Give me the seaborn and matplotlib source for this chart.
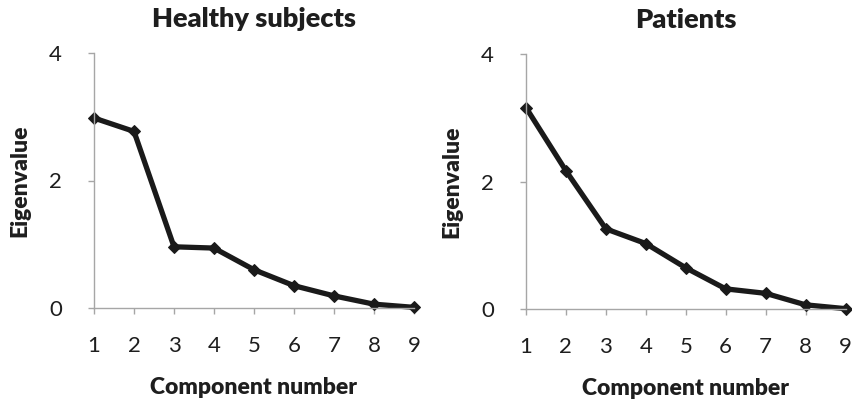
import numpy as np
import pandas as pd
import matplotlib
matplotlib.use("Agg")
import matplotlib.pyplot as plt
import seaborn as sns

# data
components = [1, 2, 3, 4, 5, 6, 7, 8, 9]
healthy_eigen = [2.98, 2.77, 0.96, 0.94, 0.60, 0.35, 0.19, 0.06, 0.01]
patient_eigen = [3.16, 2.17, 1.26, 1.03, 0.65, 0.32, 0.25, 0.07, 0.01]
panel_titles = ["Healthy subjects", "Patients"]
y_ticks = [0, 2, 4]

sns.set_style("white")
plt.rcParams["font.family"] = ["Lato", "DejaVu Sans"]

text_col = "#1e1e1e"
axis_col = "#a6a6a6"

fig, axes = plt.subplots(1, 2, figsize=(8.52, 4.05), dpi=100)
positions = [
    [94 / 852, 1 - 308 / 405, 320 / 852, 255 / 405],
    [526 / 852, 1 - 309.3 / 405, 319.5 / 852, 255.3 / 405],
]

for ax, title, vals, pos in zip(axes, panel_titles, [healthy_eigen, patient_eigen], positions):
    ax.set_position(pos)
    df = pd.DataFrame({"Component number": components, "Eigenvalue": vals})
    sns.lineplot(data=df, x="Component number", y="Eigenvalue", ax=ax,
                 color="#1a1a1a", linewidth=3.8, marker="D", markersize=6,
                 markeredgecolor="#1a1a1a", clip_on=False)
    ax.set_xlim(1, 9)
    ax.set_ylim(0, 4)
    ax.set_xticks(components)
    ax.set_yticks(y_ticks)
    sns.despine(ax=ax)
    for s in ["left", "bottom"]:
        ax.spines[s].set_color(axis_col)
        ax.spines[s].set_linewidth(1.0)
    ax.tick_params(axis="both", direction="out", length=4, width=1,
                   color=axis_col, labelcolor=text_col, labelsize=16, left=True, bottom=True)
    ax.tick_params(axis="y", pad=19)
    ax.tick_params(axis="x", pad=16)
    ax.set_title(title, fontsize=19.5, fontweight="heavy", color=text_col, pad=18.5)
    ax.set_xlabel("Component number", fontsize=16.5, fontweight="heavy", color=text_col)
    ax.set_ylabel("Eigenvalue", fontsize=16.5, fontweight="heavy", color=text_col)
    ax.xaxis.set_label_coords(0.5, -0.27)
    ax.yaxis.set_label_coords(-0.2, 0.5)

fig.savefig("out.png", dpi=100)
